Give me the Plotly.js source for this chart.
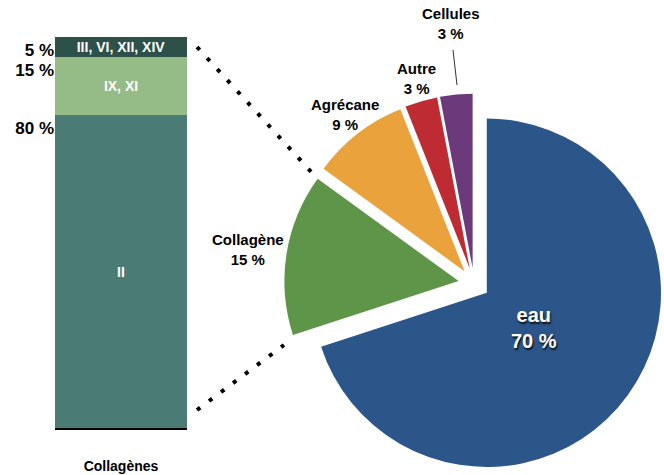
<!DOCTYPE html>
<html><head><meta charset="utf-8">
<script src="https://cdn.plot.ly/plotly-3.0.1.min.js"></script>
<style>html,body{margin:0;padding:0;background:#fff}#chart{width:664px;height:475px}</style>
</head><body><div id="chart"></div>
<script>
// ---- data ----
const barCategory = 'Collagènes';
const collagenTypes = ['II', 'IX, XI', 'III, VI, XII, XIV'];
const collagenShares = [80, 15, 5];
const collagenColors = ['#4a7b74', '#95bb86', '#2d5149'];

const pieLabels = ['eau', 'Collagène', 'Agrécane', 'Autre', 'Cellules'];
const pieValues = [70, 15, 9, 3, 3];
const pieColors = ['#2c568a', '#5e9548', '#e9a23c', '#be2b32', '#6c3a7b'];

// ---- build ----
const FONT = 'Liberation Sans, Arial, Helvetica, sans-serif';
const W = 664, H = 475;
const px = x => x / W, py = y => 1 - y / H;

const traces = [];
collagenTypes.forEach((t, i) => {
  traces.push({
    type: 'bar', x: [barCategory], y: [collagenShares[i]], width: 1,
    name: t, text: [t], textposition: 'inside', insidetextanchor: 'middle',
    constraintext: 'none',
    textfont: {family: FONT, size: 14, color: '#ffffff', weight: 'bold'},
    marker: {color: collagenColors[i], line: {width: 0}},
    hoverinfo: 'skip', cliponaxis: false
  });
});

// tick labels sit near the top of each stacked segment
let cum = 0; const tickVals = [], tickText = [];
collagenShares.forEach(v => { cum += v; tickVals.push(cum - 3.4); tickText.push(v + ' %'); });

traces.push({
  type: 'pie', labels: pieLabels, values: pieValues, sort: false,
  direction: 'clockwise', rotation: 0,
  pull: pieValues.map(() => 0.09),
  marker: {colors: pieColors, line: {color: '#ffffff', width: 0}},
  textinfo: 'none',
  domain: {x: [0.428, 1.0], y: [0, 0.806]},
  hoverinfo: 'skip', showlegend: false
});

// label placement (pixel centres) for each pie slice
const labelPos = [[534, 328], [248, 249], [345, 115], [416, 79], [451, 24]];
const annotations = pieLabels.map((l, i) => ({
  xref: 'paper', yref: 'paper', x: px(labelPos[i][0]), y: py(labelPos[i][1]),
  xanchor: 'center', yanchor: 'middle', showarrow: false, align: 'center',
  text: l + '<br>' + pieValues[i] + ' %',
  font: i === 0
    ? {family: FONT, size: 20, color: '#ffffff', weight: 'bold', shadow: '1px 2px 2px rgba(0,0,0,0.85)'}
    : {family: FONT, size: 15, color: '#000000', weight: 'bold'}
}));

const layout = {
  width: W, height: H,
  margin: {l: 0, r: 0, t: 0, b: 0},
  paper_bgcolor: '#ffffff', plot_bgcolor: 'rgba(0,0,0,0)',
  showlegend: false, barmode: 'stack', bargap: 0,
  font: {family: FONT, color: '#000000'},
  xaxis: {
    domain: [px(55), px(187)], range: [-0.5, 0.5], type: 'category',
    showline: true, linecolor: '#000000', linewidth: 1.5,
    showgrid: false, zeroline: false, ticks: '', showticklabels: false,
    fixedrange: true, automargin: false,
    title: {text: barCategory, font: {family: FONT, size: 14, weight: 'bold', color: '#000'}, standoff: 32}
  },
  yaxis: {
    domain: [py(428), py(37)], range: [0, 100],
    showline: false, showgrid: false, zeroline: false, ticks: '',
    tickvals: tickVals, ticktext: tickText,
    tickfont: {family: FONT, size: 17, weight: 'bold', color: '#000'},
    fixedrange: true, automargin: false
  },
  annotations: annotations,
  shapes: [
    {type: 'line', xref: 'paper', yref: 'paper', x0: px(197), y0: py(47), x1: px(314), y1: py(175),
     line: {color: '#000', width: 4, dash: '4px,11px'}},
    {type: 'line', xref: 'paper', yref: 'paper', x0: px(197), y0: py(410), x1: px(284), y1: py(345),
     line: {color: '#000', width: 4, dash: '4px,11px'}},
    {type: 'line', xref: 'paper', yref: 'paper', x0: px(453), y0: py(50), x1: px(457), y1: py(85),
     line: {color: '#333333', width: 1}}
  ]
};

Plotly.newPlot('chart', traces, layout, {displayModeBar: false, staticPlot: true});
</script>
</body></html>
